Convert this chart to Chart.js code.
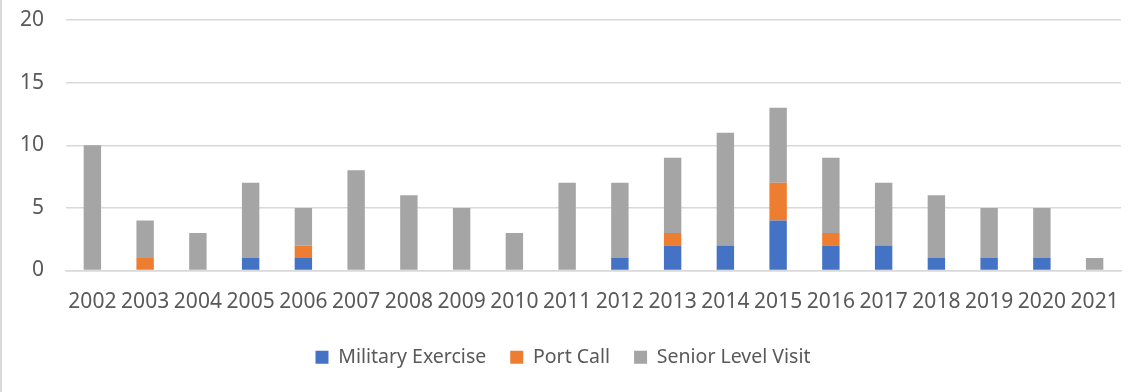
<!DOCTYPE html>
<html>
<head>
<meta charset="utf-8">
<script src="https://cdn.jsdelivr.net/npm/chart.js@4"></script>
<style>
    html, body { margin: 0; padding: 0; background: #fff; }
    #wrap { position: absolute; left: 0; top: 0; width: 1136px; height: 392px; border-left: 2px solid #d9d9d9; }
</style>
</head>
<body>
<div id="wrap"><canvas id="chart" width="1136" height="392"></canvas></div>
<script>
let years = ['2002','2003','2004','2005','2006','2007','2008','2009','2010','2011',
             '2012','2013','2014','2015','2016','2017','2018','2019','2020','2021'];
let militaryExercise = [0,0,0,1,1,0,0,0,0,0, 1,2,2,4,2,2,1,1,1,0];
let portCall         = [0,1,0,0,1,0,0,0,0,0, 0,1,0,3,1,0,0,0,0,0];
let seniorLevelVisit = [10,3,3,6,3,8,6,5,3,7, 6,6,9,6,6,5,5,4,4,1];
let yTicks = [0, 5, 10, 15, 20];

let textColor = '#595959';
let fontFamily = '"Noto Sans", "Open Sans", sans-serif';

function makeSet(label, data, color){
    return {
        label: label,
        data: data,
        backgroundColor: color,
        borderWidth: 0,
        barPercentage: 0.33,
        categoryPercentage: 1
    };
}

let ctx = document.getElementById('chart').getContext('2d');
let chart = new Chart(ctx, {
    type: 'bar',
    data: {
        labels: years,
        datasets: [
            makeSet('Military Exercise', militaryExercise, '#4472c4'),
            makeSet('Port Call', portCall, '#ed7d31'),
            makeSet('Senior Level Visit', seniorLevelVisit, '#a5a5a5')
        ]
    },
    options: {
        responsive: false,
        animation: false,
        layout: { padding: { left: 0, right: 14, top: 20, bottom: 15 } },
        scales: {
            x: {
                stacked: true,
                grid: { display: false, drawTicks: false },
                border: { display: true, color: '#d9d9d9', width: 1.5 },
                ticks: { color: textColor, font: { family: fontFamily, size: 21 }, padding: 19, maxRotation: 0, autoSkip: false },
                afterFit: function(scale){ scale.height = 53; }
            },
            y: {
                stacked: true,
                min: 0,
                max: 20,
                afterBuildTicks: function(scale){ scale.ticks = yTicks.map(v => ({ value: v })); },
                grid: { color: '#d9d9d9', lineWidth: 1.5, drawTicks: false },
                border: { display: false },
                ticks: { color: textColor, font: { family: fontFamily, size: 21 }, padding: 22 },
                afterFit: function(scale){
                    scale.width = 64;
                    scale.paddingTop = 0;
                    scale.paddingBottom = 0;
                }
            }
        },
        plugins: {
            legend: {
                position: 'bottom',
                labels: {
                    color: textColor,
                    font: { family: fontFamily, size: 19.5 },
                    boxWidth: 13,
                    boxHeight: 13,
                    padding: 24
                }
            },
            tooltip: { enabled: false }
        }
    }
});
</script>
</body>
</html>
